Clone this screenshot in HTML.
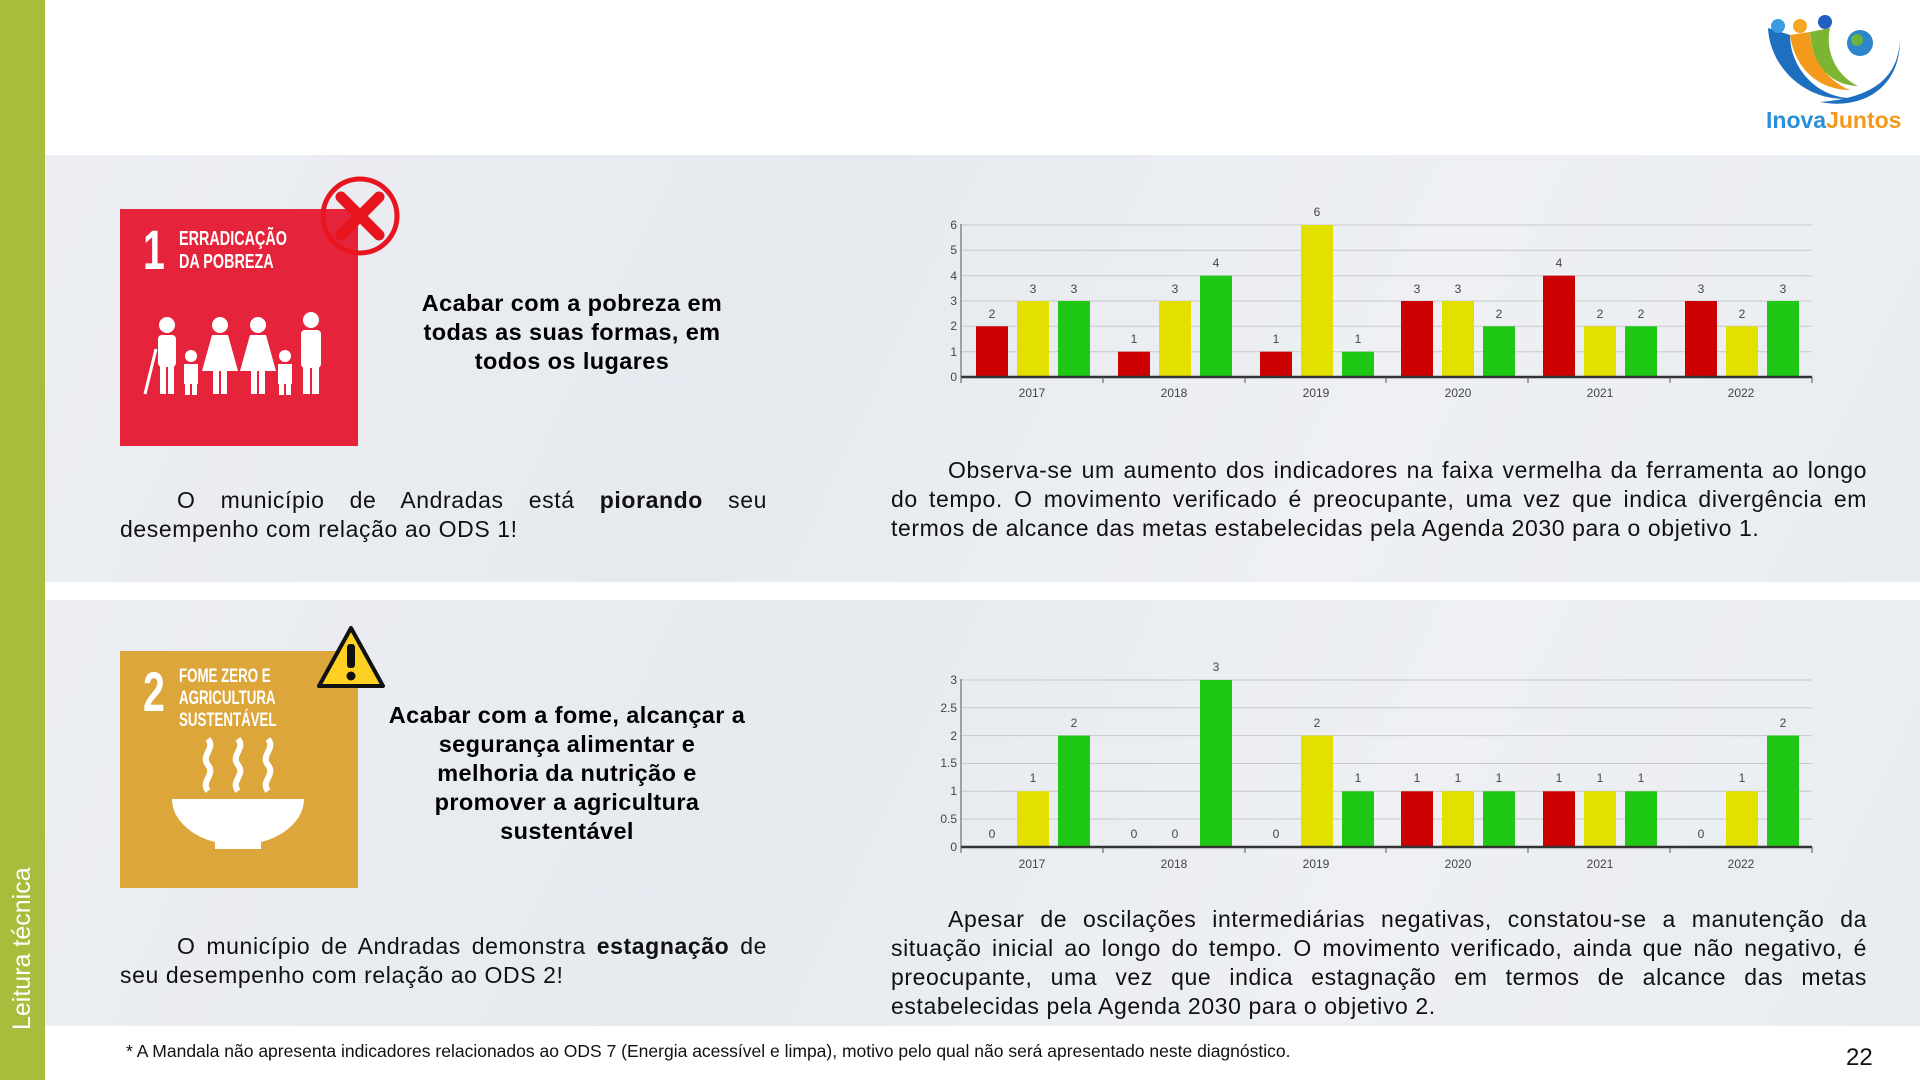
<!DOCTYPE html>
<html><head><meta charset="utf-8"><style>
body{margin:0;width:1920px;height:1080px;position:relative;background:#fff;font-family:"Liberation Sans",sans-serif;overflow:hidden}
.a{position:absolute}
.panel{position:absolute;left:45px;width:1875px;background:linear-gradient(115deg,#eceef2,#e6eaef 40%,#eef0f3 70%,#e8ecf0)}
.t{position:absolute;text-align:center;font-weight:bold;font-size:23.5px;line-height:29px;color:#000;letter-spacing:0.4px}
.p{position:absolute;font-size:23px;line-height:29px;text-align:justify;color:#111;text-align-last:left;letter-spacing:0.6px;text-indent:57px}
</style></head><body>
<div class="a" style="left:0;top:0;width:45px;height:1080px;background:#a8bd3c"></div>
<div class="a" style="left:8px;top:1030px;transform:rotate(-90deg);transform-origin:0 0;color:#fff;font-size:25px;white-space:nowrap">Leitura técnica</div>
<div class="panel" style="top:155px;height:427px"></div>
<div class="panel" style="top:600px;height:426px"></div>

<!-- SDG1 -->
<div class="a" style="left:120px;top:209px;width:238px;height:237px;background:#e5243b"></div>
<div class="a" style="left:143px;top:222px;color:#fff;font-weight:bold;font-size:56px;line-height:56px;transform:scaleX(.7);transform-origin:0 0">1</div>
<div class="a" style="left:179px;top:228px;color:#fff;font-weight:bold;font-size:20px;line-height:23px;transform:scaleX(.72);transform-origin:0 0;white-space:nowrap">ERRADICAÇÃO<br>DA POBREZA</div>
<svg class="a" style="left:120px;top:209px" width="238" height="237" fill="#fff">
<g><circle cx="47" cy="116" r="8"/><rect x="38" y="126" width="18" height="32" rx="4"/><rect x="40" y="150" width="6" height="35"/><rect x="48" y="150" width="6" height="35"/><line x1="36" y1="140" x2="25" y2="185" stroke="#fff" stroke-width="3"/>
<circle cx="71" cy="147" r="6"/><rect x="64" y="155" width="14" height="20"/><rect x="65" y="172" width="5" height="14"/><rect x="72" y="172" width="5" height="14"/>
<circle cx="100" cy="116" r="8"/><path d="M92 126h16l10 36h-36z"/><rect x="93" y="160" width="6" height="25"/><rect x="101" y="160" width="6" height="25"/>
<circle cx="138" cy="116" r="8"/><path d="M130 126h16l10 36h-36z"/><rect x="131" y="160" width="6" height="25"/><rect x="139" y="160" width="6" height="25"/>
<circle cx="165" cy="147" r="6"/><rect x="158" y="155" width="14" height="20"/><rect x="159" y="172" width="5" height="14"/><rect x="166" y="172" width="5" height="14"/>
<circle cx="191" cy="111" r="8"/><rect x="181" y="121" width="20" height="38" rx="4"/><rect x="183" y="150" width="7" height="35"/><rect x="192" y="150" width="7" height="35"/></g></svg>
<svg class="a" style="left:319px;top:175px" width="82" height="82"><circle cx="41" cy="41" r="37" fill="none" stroke="#e8141e" stroke-width="5"/><path d="M22 22L60 60M60 22L22 60" stroke="#e8141e" stroke-width="11" stroke-linecap="round"/></svg>
<div class="t" style="left:405px;top:289px;width:334px">Acabar com a pobreza em todas as suas formas, em todos os lugares</div>
<div class="p" style="left:120px;top:486px;width:647px">O município de Andradas está <b>piorando</b> seu desempenho com relação ao ODS 1!</div>
<div class="p" style="left:891px;top:456px;width:976px">Observa-se um aumento dos indicadores na faixa vermelha da ferramenta ao longo do tempo. O movimento verificado é preocupante, uma vez que indica divergência em termos de alcance das metas estabelecidas pela Agenda 2030 para o objetivo 1.</div>

<!-- SDG2 -->
<div class="a" style="left:120px;top:651px;width:238px;height:237px;background:#dda63a"></div>
<div class="a" style="left:143px;top:664px;color:#fff;font-weight:bold;font-size:56px;line-height:56px;transform:scaleX(.7);transform-origin:0 0">2</div>
<div class="a" style="left:179px;top:666px;color:#fff;font-weight:bold;font-size:19px;line-height:22px;transform:scaleX(.7);transform-origin:0 0;white-space:nowrap">FOME ZERO E<br>AGRICULTURA<br>SUSTENTÁVEL</div>
<svg class="a" style="left:120px;top:651px" width="238" height="237"><path d="M52 148h132a66 46 0 0 1-132 0z" fill="#fff"/><rect x="95" y="190" width="46" height="8" fill="#fff"/><g fill="none" stroke="#fff" stroke-width="6"><path d="M88 140c-8-10 8-16 0-26s8-16 0-26"/><path d="M118 140c-8-10 8-16 0-26s8-16 0-26"/><path d="M148 140c-8-10 8-16 0-26s8-16 0-26"/></g></svg>
<svg class="a" style="left:315px;top:624px" width="72" height="66"><path d="M36 4L68 62H4z" fill="#fdd023" stroke="#111" stroke-width="4" stroke-linejoin="round"/><rect x="32" y="20" width="8" height="24" rx="3" fill="#111"/><circle cx="36" cy="52" r="4.5" fill="#111"/></svg>
<div class="t" style="left:387px;top:701px;width:360px">Acabar com a fome, alcançar a segurança alimentar e melhoria da nutrição e promover a agricultura sustentável</div>
<div class="p" style="left:120px;top:932px;width:647px">O município de Andradas demonstra <b>estagnação</b> de seu desempenho com relação ao ODS 2!</div>
<div class="p" style="left:891px;top:905px;width:976px">Apesar de oscilações intermediárias negativas, constatou-se a manutenção da situação inicial ao longo do tempo. O movimento verificado, ainda que não negativo, é preocupante, uma vez que indica estagnação em termos de alcance das metas estabelecidas pela Agenda 2030 para o objetivo 2.</div>

<div class="a" style="left:126px;top:1041px;font-size:17.5px;color:#111">* A Mandala não apresenta indicadores relacionados ao ODS 7 (Energia acessível e limpa), motivo pelo qual não será apresentado neste diagnóstico.</div>
<div class="a" style="left:1846px;top:1044px;font-size:24px;color:#111">22</div>

<!-- logo -->
<svg class="a" style="left:1760px;top:10px" width="150" height="125">
<path d="M8 18C10 60 50 95 95 88C60 90 30 60 30 25z" fill="#1e6fc0"/>
<path d="M30 25C35 60 60 80 90 80C65 70 50 45 50 22z" fill="#f39a1d"/>
<path d="M50 22C52 55 70 75 98 76C75 65 65 40 70 18z" fill="#7cb531"/>
<circle cx="18" cy="16" r="7" fill="#3b9be0"/><circle cx="40" cy="16" r="7" fill="#f5a623"/><circle cx="65" cy="12" r="7" fill="#1f5fbf"/>
<circle cx="100" cy="33" r="13" fill="#2d86c9"/><circle cx="97" cy="30" r="6" fill="#6bb33d"/>
<path d="M60 92C100 100 140 80 140 30C138 70 110 88 60 92z" fill="#1e6fc0"/>
<text x="6" y="118" font-family="Liberation Sans" font-weight="bold" font-size="23" fill="#2a8fd6">Inova<tspan fill="#f39a1d">Juntos</tspan></text>
</svg>

<!-- charts -->
<svg class="a" style="left:0;top:0" width="1920" height="1080" font-family="Liberation Sans" font-size="12" fill="#444">
<g stroke="#c8c8c8" stroke-width="1">
<line x1="961" x2="1812" y1="351.7" y2="351.7"/><line x1="961" x2="1812" y1="326.3" y2="326.3"/><line x1="961" x2="1812" y1="301" y2="301"/><line x1="961" x2="1812" y1="275.7" y2="275.7"/><line x1="961" x2="1812" y1="250.3" y2="250.3"/><line x1="961" x2="1812" y1="225" y2="225"/>
<line x1="961" x2="1812" y1="819" y2="819"/><line x1="961" x2="1812" y1="791.3" y2="791.3"/><line x1="961" x2="1812" y1="763.5" y2="763.5"/><line x1="961" x2="1812" y1="735.6" y2="735.6"/><line x1="961" x2="1812" y1="707.8" y2="707.8"/><line x1="961" x2="1812" y1="680" y2="680"/>
</g>
<g text-anchor="end"><text x="957" y="381">0</text><text x="957" y="356">1</text><text x="957" y="330">2</text><text x="957" y="305">3</text><text x="957" y="280">4</text><text x="957" y="254">5</text><text x="957" y="229">6</text>
<text x="957" y="851">0</text><text x="957" y="823">0.5</text><text x="957" y="795">1</text><text x="957" y="767">1.5</text><text x="957" y="740">2</text><text x="957" y="712">2.5</text><text x="957" y="684">3</text></g>
<g>
<rect x="976" y="326.3" width="32" height="50.7" fill="#cc0000"/><rect x="1017" y="301" width="32" height="76" fill="#e3e000"/><rect x="1058" y="301" width="32" height="76" fill="#1fc814"/>
<rect x="1118" y="351.7" width="32" height="25.3" fill="#cc0000"/><rect x="1159" y="301" width="32" height="76" fill="#e3e000"/><rect x="1200" y="275.7" width="32" height="101.3" fill="#1fc814"/>
<rect x="1260" y="351.7" width="32" height="25.3" fill="#cc0000"/><rect x="1301" y="225" width="32" height="152" fill="#e3e000"/><rect x="1342" y="351.7" width="32" height="25.3" fill="#1fc814"/>
<rect x="1401" y="301" width="32" height="76" fill="#cc0000"/><rect x="1442" y="301" width="32" height="76" fill="#e3e000"/><rect x="1483" y="326.3" width="32" height="50.7" fill="#1fc814"/>
<rect x="1543" y="275.7" width="32" height="101.3" fill="#cc0000"/><rect x="1584" y="326.3" width="32" height="50.7" fill="#e3e000"/><rect x="1625" y="326.3" width="32" height="50.7" fill="#1fc814"/>
<rect x="1685" y="301" width="32" height="76" fill="#cc0000"/><rect x="1726" y="326.3" width="32" height="50.7" fill="#e3e000"/><rect x="1767" y="301" width="32" height="76" fill="#1fc814"/>
</g>
<g text-anchor="middle">
<text x="992" y="318">2</text><text x="1033" y="293">3</text><text x="1074" y="293">3</text>
<text x="1134" y="343">1</text><text x="1175" y="293">3</text><text x="1216" y="267">4</text>
<text x="1276" y="343">1</text><text x="1317" y="216">6</text><text x="1358" y="343">1</text>
<text x="1417" y="293">3</text><text x="1458" y="293">3</text><text x="1499" y="318">2</text>
<text x="1559" y="267">4</text><text x="1600" y="318">2</text><text x="1641" y="318">2</text>
<text x="1701" y="293">3</text><text x="1742" y="318">2</text><text x="1783" y="293">3</text>
<text x="1032" y="397">2017</text><text x="1174" y="397">2018</text><text x="1316" y="397">2019</text><text x="1458" y="397">2020</text><text x="1600" y="397">2021</text><text x="1741" y="397">2022</text>
</g>
<line x1="961" x2="1812" y1="377" y2="377" stroke="#333" stroke-width="2.5"/>
<g stroke="#555"><line x1="961" x2="961" y1="224" y2="383"/><line x1="1103" x2="1103" y1="377" y2="383"/><line x1="1245" x2="1245" y1="377" y2="383"/><line x1="1386" x2="1386" y1="377" y2="383"/><line x1="1528" x2="1528" y1="377" y2="383"/><line x1="1670" x2="1670" y1="377" y2="383"/><line x1="1812" x2="1812" y1="377" y2="383"/></g>

<g>
<rect x="1017" y="791.3" width="32" height="55.7" fill="#e3e000"/><rect x="1058" y="735.6" width="32" height="111.4" fill="#1fc814"/>
<rect x="1200" y="680" width="32" height="167" fill="#1fc814"/>
<rect x="1301" y="735.6" width="32" height="111.4" fill="#e3e000"/><rect x="1342" y="791.3" width="32" height="55.7" fill="#1fc814"/>
<rect x="1401" y="791.3" width="32" height="55.7" fill="#cc0000"/><rect x="1442" y="791.3" width="32" height="55.7" fill="#e3e000"/><rect x="1483" y="791.3" width="32" height="55.7" fill="#1fc814"/>
<rect x="1543" y="791.3" width="32" height="55.7" fill="#cc0000"/><rect x="1584" y="791.3" width="32" height="55.7" fill="#e3e000"/><rect x="1625" y="791.3" width="32" height="55.7" fill="#1fc814"/>
<rect x="1726" y="791.3" width="32" height="55.7" fill="#e3e000"/><rect x="1767" y="735.6" width="32" height="111.4" fill="#1fc814"/>
</g>
<g text-anchor="middle">
<text x="992" y="838">0</text><text x="1033" y="782">1</text><text x="1074" y="727">2</text>
<text x="1134" y="838">0</text><text x="1175" y="838">0</text><text x="1216" y="671">3</text>
<text x="1276" y="838">0</text><text x="1317" y="727">2</text><text x="1358" y="782">1</text>
<text x="1417" y="782">1</text><text x="1458" y="782">1</text><text x="1499" y="782">1</text>
<text x="1559" y="782">1</text><text x="1600" y="782">1</text><text x="1641" y="782">1</text>
<text x="1701" y="838">0</text><text x="1742" y="782">1</text><text x="1783" y="727">2</text>
<text x="1032" y="868">2017</text><text x="1174" y="868">2018</text><text x="1316" y="868">2019</text><text x="1458" y="868">2020</text><text x="1600" y="868">2021</text><text x="1741" y="868">2022</text>
</g>
<line x1="961" x2="1812" y1="847" y2="847" stroke="#333" stroke-width="2.5"/>
<g stroke="#555"><line x1="961" x2="961" y1="679" y2="853"/><line x1="1103" x2="1103" y1="847" y2="853"/><line x1="1245" x2="1245" y1="847" y2="853"/><line x1="1386" x2="1386" y1="847" y2="853"/><line x1="1528" x2="1528" y1="847" y2="853"/><line x1="1670" x2="1670" y1="847" y2="853"/><line x1="1812" x2="1812" y1="847" y2="853"/></g>
</svg>
</body></html>
